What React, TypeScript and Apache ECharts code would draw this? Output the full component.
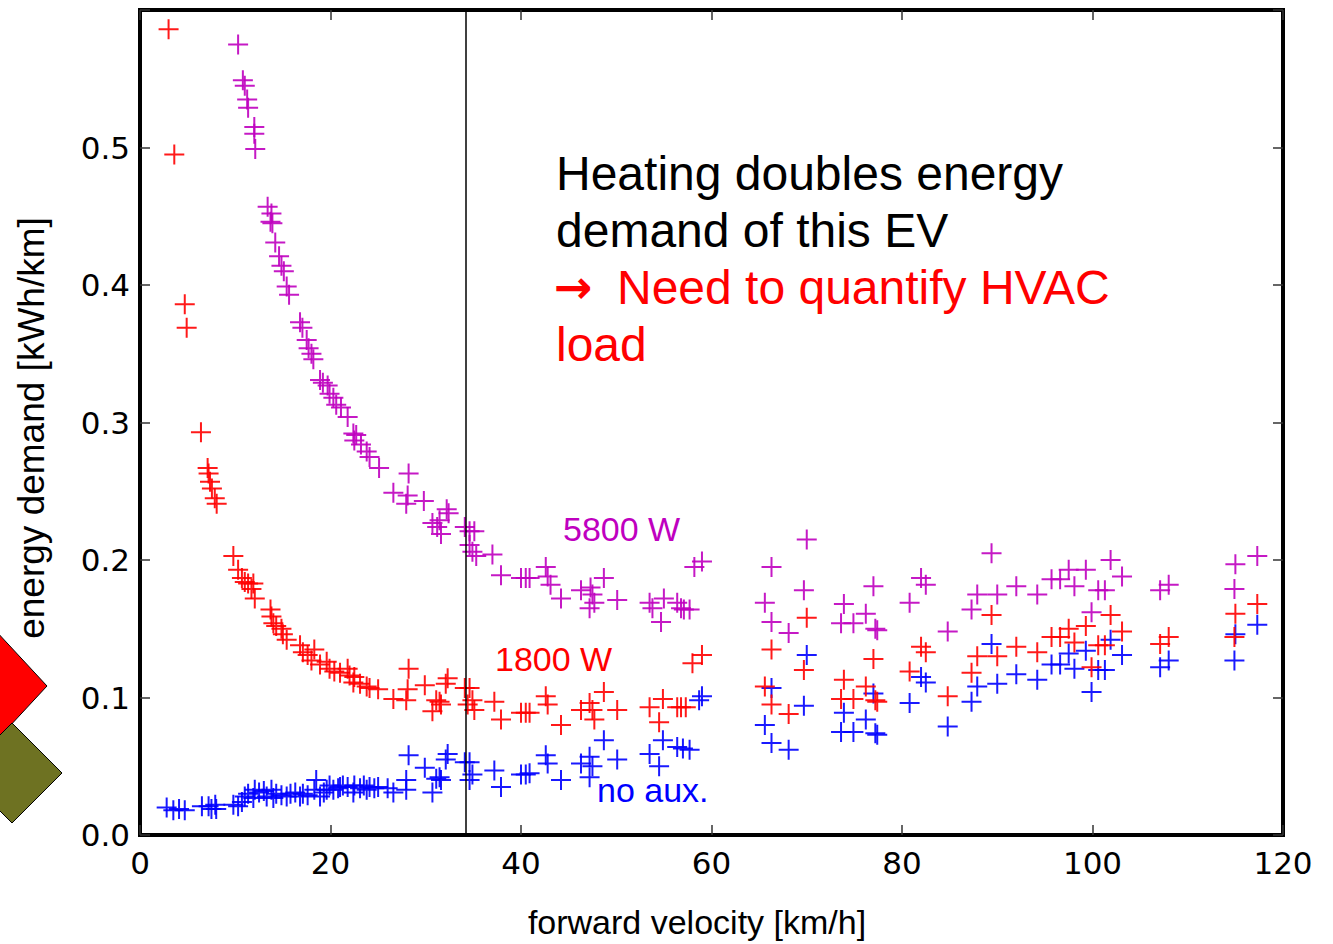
import React, { useEffect, useRef } from "react";
import * as echarts from "echarts";

const xTicks = [0, 20, 40, 60, 80, 100, 120];
const yTicks = [0, 0.1, 0.2, 0.3, 0.4, 0.5];
const thresholdSpeed = 34.2;

const heating5800: number[][] = [
  [10.3,0.575],[10.8,0.549],[11.0,0.545],[11.25,0.535],[11.35,0.529],[12.0,0.515],[12.0,0.510],[12.1,0.499],
  [13.4,0.457],[13.8,0.452],[13.7,0.446],[13.9,0.445],[14.2,0.431],[14.6,0.421],[14.85,0.414],[15.1,0.410],
  [15.4,0.399],[15.65,0.393],[16.8,0.373],[17.05,0.369],[17.5,0.360],[17.7,0.354],[18.0,0.350],[18.2,0.346],
  [18.9,0.331],[19.2,0.329],[19.7,0.327],[19.9,0.321],[20.3,0.318],[20.6,0.313],[21.1,0.311],[21.8,0.304],
  [22.4,0.292],[22.7,0.291],[22.5,0.287],[23.2,0.284],[23.8,0.279],[24.1,0.275],[25.1,0.267],[26.6,0.249],
  [28.2,0.263],[28.1,0.247],[27.95,0.241],[29.8,0.243],[30.7,0.227],[31.2,0.224],[31.45,0.229],[31.6,0.219],
  [32.2,0.237],[32.4,0.234],[34.1,0.224],[34.6,0.221],[35.1,0.221],[34.6,0.211],[34.9,0.206],[35.3,0.203],
  [37.0,0.204],[37.9,0.189],[40.0,0.187],[40.5,0.187],[40.9,0.187],[42.6,0.195],[42.8,0.188],[43.1,0.182],
  [44.2,0.172],[46.3,0.178],[47.3,0.180],[47.5,0.175],[47.7,0.169],[47.2,0.165],[48.7,0.187],[50.1,0.171],
  [53.5,0.169],[53.8,0.165],[54.7,0.155],[55.0,0.172],[56.4,0.169],[56.8,0.165],[57.1,0.164],[57.7,0.164],
  [58.2,0.195],[59.0,0.199],
  [65.6,0.169],[66.3,0.195],[66.3,0.155],[68.1,0.147],[69.7,0.178],[70.0,0.215],[73.6,0.154],[73.9,0.168],
  [74.9,0.154],[76.2,0.161],[77.0,0.181],[77.2,0.150],[77.4,0.149],[80.8,0.169],[82.0,0.187],[82.5,0.182],
  [84.8,0.148],[87.3,0.164],[87.9,0.175],[89.4,0.205],[90.0,0.175],[92.0,0.181],[94.2,0.175],[95.7,0.186],
  [96.6,0.186],[97.5,0.193],[98.1,0.181],[99.3,0.193],[99.9,0.162],[100.6,0.178],[101.3,0.178],[101.9,0.200],
  [103.1,0.188],[107.1,0.178],[108.0,0.182],[114.9,0.179],[115.0,0.197],[117.3,0.203],
];

const heating1800: number[][] = [
  [3.0,0.586],[3.6,0.495],[4.7,0.386],[4.9,0.369],[6.4,0.293],[7.1,0.267],[7.2,0.263],[7.35,0.257],
  [7.55,0.252],[7.85,0.245],[8.05,0.241],[9.8,0.203],[10.3,0.193],[10.7,0.187],[11.0,0.184],[11.35,0.183],
  [11.9,0.183],[11.7,0.179],[12.05,0.172],[13.7,0.164],[13.8,0.159],[14.0,0.154],[14.3,0.152],[14.85,0.150],
  [15.0,0.146],[15.4,0.142],[16.8,0.138],[17.1,0.133],[17.6,0.131],[18.3,0.135],[18.0,0.127],[18.9,0.124],
  [19.6,0.126],[19.9,0.121],[20.4,0.119],[21.0,0.118],[21.8,0.121],[22.0,0.116],[22.5,0.115],[22.4,0.111],
  [23.1,0.110],[23.8,0.108],[24.1,0.107],[25.0,0.106],[26.6,0.099],[28.2,0.121],[27.95,0.098],[28.1,0.106],
  [29.9,0.109],[30.7,0.090],[31.1,0.098],[31.45,0.097],[31.6,0.095],[32.1,0.110],[32.3,0.114],[34.1,0.107],
  [34.6,0.107],[34.9,0.098],[35.1,0.091],[34.4,0.095],[37.2,0.097],[37.9,0.084],[40.0,0.089],[40.5,0.089],
  [40.9,0.089],[42.6,0.101],[42.8,0.095],[44.2,0.080],[46.3,0.091],[47.2,0.096],[47.5,0.091],[47.7,0.084],
  [48.7,0.104],[50.1,0.091],[53.5,0.093],[54.5,0.082],[54.9,0.099],[56.4,0.093],[56.8,0.093],[57.3,0.093],
  [58.0,0.125],[59.0,0.131],
  [65.6,0.108],[66.3,0.135],[66.3,0.095],[68.1,0.088],[69.7,0.120],[70.0,0.158],[73.6,0.099],[73.9,0.113],
  [74.9,0.099],[76.2,0.108],[77.0,0.128],[77.2,0.098],[77.4,0.097],[80.8,0.119],[82.0,0.137],[82.5,0.133],
  [84.8,0.101],[87.3,0.118],[87.9,0.130],[89.4,0.160],[90.0,0.130],[92.0,0.137],[94.2,0.133],[95.7,0.144],
  [96.6,0.144],[97.5,0.150],[98.1,0.140],[99.3,0.152],[99.9,0.122],[100.6,0.138],[101.3,0.138],[101.9,0.160],
  [103.1,0.148],[107.1,0.139],[108.0,0.144],[114.9,0.144],[115.0,0.161],[117.3,0.168],
];

const noAux: number[][] = [
  [2.8,0.020],[3.5,0.018],[4.1,0.019],[4.7,0.018],[6.5,0.021],[7.2,0.021],[7.5,0.019],[7.9,0.022],
  [8.0,0.019],[9.8,0.022],[10.3,0.021],[10.7,0.024],[11.0,0.028],[11.35,0.030],[12.05,0.033],[11.9,0.027],
  [12.5,0.031],[13.0,0.032],[13.3,0.028],[13.8,0.033],[14.0,0.027],[14.3,0.030],[14.85,0.029],[15.4,0.028],
  [15.8,0.030],[16.3,0.031],[16.8,0.028],[17.1,0.030],[17.6,0.029],[18.3,0.033],[18.5,0.040],[18.9,0.028],
  [19.3,0.031],[19.6,0.033],[19.9,0.036],[20.3,0.033],[20.8,0.034],[21.0,0.035],[21.3,0.036],[21.8,0.035],
  [22.4,0.031],[22.5,0.036],[23.1,0.034],[23.5,0.036],[23.8,0.033],[24.1,0.035],[24.6,0.034],[25.0,0.035],
  [26.0,0.034],[26.6,0.031],[27.95,0.040],[28.2,0.058],[27.95,0.033],[29.9,0.049],[30.7,0.031],[31.1,0.041],
  [31.45,0.042],[31.6,0.040],[32.1,0.055],[32.3,0.059],[34.1,0.053],[34.6,0.053],[34.9,0.044],[34.6,0.040],
  [37.2,0.047],[37.9,0.035],[40.0,0.044],[40.5,0.044],[40.9,0.045],[42.6,0.058],[42.8,0.052],[44.2,0.040],
  [46.3,0.052],[47.2,0.057],[47.5,0.050],[47.2,0.042],[48.7,0.069],[50.1,0.055],[53.5,0.059],[54.5,0.050],
  [54.9,0.069],[56.4,0.064],[57.0,0.063],[57.7,0.062],[58.7,0.098],[59.0,0.101],
  [65.6,0.080],[66.3,0.107],[66.3,0.067],[68.1,0.062],[69.7,0.094],[70.0,0.131],[73.6,0.075],[73.9,0.089],
  [74.9,0.075],[76.2,0.084],[77.0,0.103],[77.2,0.074],[77.4,0.073],[80.8,0.096],[82.0,0.115],[82.5,0.111],
  [84.8,0.079],[87.3,0.097],[87.9,0.108],[89.4,0.139],[90.0,0.110],[92.0,0.117],[94.2,0.113],[95.7,0.124],
  [96.6,0.124],[97.5,0.132],[98.1,0.121],[99.3,0.134],[99.9,0.104],[100.6,0.120],[101.3,0.120],[101.9,0.142],
  [103.1,0.131],[107.1,0.122],[108.0,0.127],[114.9,0.127],[115.0,0.146],[117.3,0.153],
];

const PLUS = "path://M9,0H11V9H20V11H11V20H9V11H0V9H9Z";

export default function App() {
  const ref = useRef<HTMLDivElement>(null);
  useEffect(() => {
    if (!ref.current) return;
    const chart = echarts.init(ref.current, null, { renderer: "svg" });
    const tick = () => ({ show: true, inside: true, length: 10, lineStyle: { color: "#333", width: 1.5 } });
    const line = () => ({ show: true, onZero: false, lineStyle: { color: "#000", width: 4 } });
    const scatter = (name: string, data: number[][], color: string, extra: any = {}) => ({
      name,
      type: "scatter",
      data,
      symbol: PLUS,
      symbolSize: 20,
      itemStyle: { color, opacity: 0.9 },
      silent: true,
      ...extra,
    });
    const txt = (t: string, x: number, y: number, font: string, fill: string, align = "left") => ({
      type: "text",
      x,
      y,
      z: 12,
      style: {
        text: t,
        font,
        fill,
        textAlign: align,
        textVerticalAlign: "middle",
        align,
        verticalAlign: "middle",
      },
    });
    chart.setOption({
      animation: false,
      backgroundColor: "#fff",
      grid: {
        left: 140,
        right: 50,
        top: 10,
        bottom: 109,
        show: true,
        borderColor: "#000",
        borderWidth: 4,
        backgroundColor: "transparent",
      },
      xAxis: [
        {
          type: "value",
          position: "bottom",
          min: 0,
          max: 120,
          interval: 20,
          axisLine: line(),
          axisTick: tick(),
          splitLine: { show: false },
          axisLabel: {
            color: "#000",
            fontFamily: "DejaVu Sans",
            fontSize: 31,
            margin: 12,
            formatter: (v: number) => (xTicks.includes(v) ? String(v) : ""),
          },
        },
        {
          type: "value",
          position: "top",
          min: 0,
          max: 120,
          interval: 20,
          axisLine: line(),
          axisTick: tick(),
          splitLine: { show: false },
          axisLabel: { show: false },
        },
      ],
      yAxis: [
        {
          type: "value",
          position: "left",
          min: 0,
          max: 0.6,
          interval: 0.1,
          axisLine: line(),
          axisTick: tick(),
          splitLine: { show: false },
          axisLabel: {
            color: "#000",
            fontFamily: "DejaVu Sans",
            fontSize: 31,
            margin: 10,
            formatter: (v: number) => {
              const t = yTicks.find((y) => Math.abs(y - v) < 1e-6);
              return t === undefined ? "" : t.toFixed(1);
            },
          },
        },
        {
          type: "value",
          position: "right",
          min: 0,
          max: 0.6,
          interval: 0.1,
          axisLine: line(),
          axisTick: tick(),
          splitLine: { show: false },
          axisLabel: { show: false },
        },
      ],
      series: [
        scatter("no aux.", noAux, "#0000ff", {
          markLine: {
            silent: true,
            symbol: ["none", "none"],
            label: { show: false },
            lineStyle: { color: "#000", width: 1.5, type: "solid" },
            data: [{ xAxis: thresholdSpeed }],
          },
        }),
        scatter("1800 W", heating1800, "#ff0000"),
        scatter("5800 W", heating5800, "#bf00bf"),
      ],
      graphic: [
        {
          type: "polygon",
          shape: { points: [[47, 686], [-5, 630], [-57, 686], [-5, 742]] },
          style: { fill: "#ff0000", stroke: "#000", lineWidth: 1 },
          z: 10,
        },
        {
          type: "polygon",
          shape: { points: [[62, 773], [12, 723], [-38, 773], [12, 823]] },
          style: { fill: "#6e7222", stroke: "#000", lineWidth: 1 },
          z: 11,
        },
        {
          ...txt("energy demand [kWh/km]", 31, 428, "37px 'Liberation Sans', Arial, sans-serif", "#000", "center"),
          rotation: Math.PI / 2,
        },
        txt("forward velocity [km/h]", 697, 922, "34px 'Liberation Sans', Arial, sans-serif", "#000", "center"),
        txt("Heating doubles energy", 556, 173, "48px 'Liberation Sans', Arial, sans-serif", "#000"),
        txt("demand of this EV", 556, 230, "48px 'Liberation Sans', Arial, sans-serif", "#000"),
        txt("\u2192", 554, 287, "bold 46px 'DejaVu Sans', sans-serif", "#ff0000"),
        txt("Need to quantify HVAC", 617, 287, "48px 'Liberation Sans', Arial, sans-serif", "#ff0000"),
        txt("load", 556, 344, "48px 'Liberation Sans', Arial, sans-serif", "#ff0000"),
        txt("5800 W", 563, 529, "34px 'Liberation Sans', Arial, sans-serif", "#bf00bf"),
        txt("1800 W", 495, 659, "34px 'Liberation Sans', Arial, sans-serif", "#ff0000"),
        txt("no aux.", 597, 790, "34px 'Liberation Sans', Arial, sans-serif", "#0000ff"),
      ],
    });
    return () => chart.dispose();
  }, []);
  return <div ref={ref} style={{ width: 1333, height: 944, position: "absolute", left: 0, top: 0 }} />;
}
